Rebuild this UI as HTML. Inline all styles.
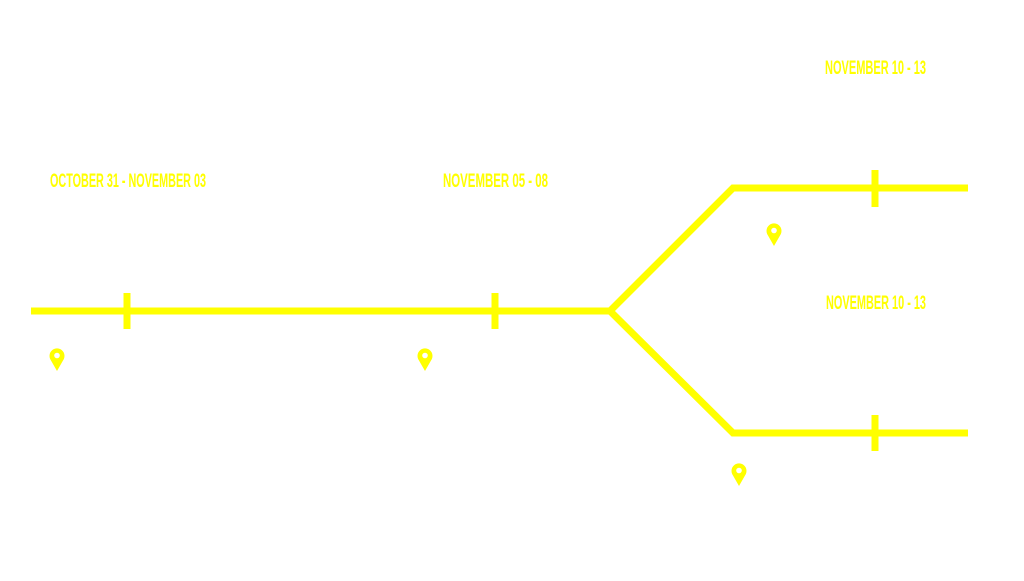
<!DOCTYPE html>
<html><head><style>
body{margin:0;background:#fff;width:1024px;height:576px;overflow:hidden}
</style></head><body>
<svg width="1024" height="576" viewBox="0 0 1024 576" xmlns="http://www.w3.org/2000/svg">
<defs>
<g id="pin"><path d="M0,15 L-6.3,4 A7.5,7.5 0 1 1 6.3,4 Z" fill="#ffff00"/><circle cx="0" cy="-0.5" r="2.8" fill="#fff"/></g>
</defs>
<g stroke="#ffff00" stroke-width="7" fill="none" stroke-linejoin="miter">
<polyline points="31,311 610,311 733,188 968,188"/>
<polyline points="610,311 733,433 968,433"/>
<line x1="127" y1="293" x2="127" y2="329"/>
<line x1="495" y1="293" x2="495" y2="329"/>
<line x1="875" y1="170" x2="875" y2="207"/>
<line x1="875" y1="415" x2="875" y2="451"/>
</g>
<use href="#pin" x="57" y="356"/>
<use href="#pin" x="425" y="356"/>
<use href="#pin" x="774" y="231"/>
<use href="#pin" x="739" y="471"/>
<g fill="#ffff00" font-family="Liberation Sans, sans-serif" font-size="19" font-weight="bold">
<text x="50" y="187" textLength="156" lengthAdjust="spacingAndGlyphs">OCTOBER 31 - NOVEMBER 03</text>
<text x="443" y="187" textLength="105" lengthAdjust="spacingAndGlyphs">NOVEMBER 05 - 08</text>
<text x="825" y="74" textLength="101" lengthAdjust="spacingAndGlyphs">NOVEMBER 10 - 13</text>
<text x="826" y="309" textLength="100" lengthAdjust="spacingAndGlyphs">NOVEMBER 10 - 13</text>
</g>
</svg>
</body></html>
